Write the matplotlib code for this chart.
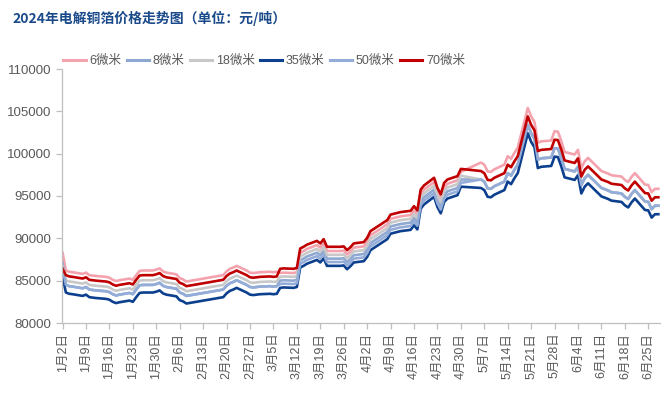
import matplotlib
matplotlib.use("Agg")
import matplotlib.pyplot as plt
import pandas as pd

dates = ["2024-01-02","2024-01-03","2024-01-04","2024-01-05","2024-01-08","2024-01-09","2024-01-10","2024-01-11","2024-01-12",
"2024-01-15","2024-01-16","2024-01-17","2024-01-18","2024-01-19","2024-01-22","2024-01-23","2024-01-24","2024-01-25","2024-01-26",
"2024-01-29","2024-01-30","2024-01-31","2024-02-01","2024-02-02","2024-02-05","2024-02-06","2024-02-07","2024-02-08",
"2024-02-19","2024-02-20","2024-02-21","2024-02-22","2024-02-23","2024-02-26","2024-02-27","2024-02-28","2024-02-29","2024-03-01",
"2024-03-04","2024-03-05","2024-03-06","2024-03-07","2024-03-08","2024-03-11","2024-03-12","2024-03-13","2024-03-14","2024-03-15",
"2024-03-18","2024-03-19","2024-03-20","2024-03-21","2024-03-22","2024-03-25","2024-03-26","2024-03-27","2024-03-28","2024-03-29",
"2024-04-01","2024-04-02","2024-04-03","2024-04-08","2024-04-09","2024-04-10","2024-04-11","2024-04-12",
"2024-04-15","2024-04-16","2024-04-17","2024-04-18","2024-04-19","2024-04-22","2024-04-23","2024-04-24","2024-04-25","2024-04-26",
"2024-04-29","2024-04-30","2024-05-06","2024-05-07","2024-05-08","2024-05-09","2024-05-10",
"2024-05-13","2024-05-14","2024-05-15","2024-05-16","2024-05-17","2024-05-20","2024-05-21","2024-05-22","2024-05-23","2024-05-24",
"2024-05-27","2024-05-28","2024-05-29","2024-05-30","2024-05-31","2024-06-03","2024-06-04","2024-06-05","2024-06-06","2024-06-07",
"2024-06-11","2024-06-12","2024-06-13","2024-06-14","2024-06-17","2024-06-18","2024-06-19","2024-06-20","2024-06-21",
"2024-06-24","2024-06-25","2024-06-26","2024-06-27","2024-06-28"]

um6 = [88300,
86200,86050,86000,85800,85950,85650,85600,85550,85450,85350,85100,84950,85050,85250,85100,85650,86150,86200,86200,86300,86450,86100,85950,85750,85300,85150,84900,85650,86100,86400,86550,86750,86200,85950,85900,85950,86000,86050,86000,86050,
85900,85950,85900,86000,88300,88500,88750,89200,88900,89400,88500,88500,88500,88550,88100,88450,88900,89050,89550,90350,91650,92300,92400,92500,92600,92750,93300,92800,95250,95750,96650,95450,94700,96050,96450,96850,97850,
98950,98700,97900,97850,98150,98700,99700,99400,100100,100700,105400,104400,103750,101300,101450,101550,102650,102600,101500,100200,99900,100450,98300,99100,99500,97950,97800,97650,97450,97300,96900,96650,97250,97700,96350,96300,95450,95850,95850]

um8 = [87100,
84500,84350,84300,84100,84250,83950,83900,83850,83750,83650,83400,83250,83350,83550,83400,83950,84450,84500,84500,84600,84750,84400,84250,84050,83600,83450,83200,83950,84400,84700,84850,85050,84500,84250,84200,84250,84300,84350,84300,84350,
85000,85050,85000,85100,87400,87600,87850,88300,88000,88500,87600,87600,87600,87650,87200,87550,88000,88150,88650,89450,90750,91400,91500,91600,91700,91850,92400,91900,94350,94850,95750,94550,93800,95150,95550,95950,96950,
96950,96700,95900,95850,96150,96700,97700,97400,98100,98700,103400,102400,101750,99300,99450,99550,100650,100600,99500,98200,97900,98450,96300,97100,97500,95950,95800,95650,95450,95300,94900,94650,95250,95700,94350,94300,93450,93850,93850]

um18 = [86700,
85050,84900,84850,84650,84800,84500,84450,84400,84300,84200,83950,83800,83900,84100,83950,84500,85000,85050,85050,85150,85300,84950,84800,84600,84150,84000,83750,84500,84950,85250,85400,85600,85050,84800,84750,84800,84850,84900,84850,84900,
85450,85500,85450,85550,87850,88050,88300,88750,88450,88950,88050,88050,88050,88100,87650,88000,88450,88600,89100,89900,91200,91850,91950,92050,92150,92300,92850,92350,94800,95300,96200,95000,94250,95600,96000,96400,97400,
96950,96700,95900,95850,96150,96700,97700,97400,98100,98700,103400,102400,101750,99300,99450,99550,100650,100600,99500,98200,97900,98450,96300,97100,97500,95950,95800,95650,95450,95300,94900,94650,95250,95700,94350,94300,93450,93850,93850]

um35 = [85400,
83600,83450,83400,83200,83350,83050,83000,82950,82850,82750,82500,82350,82450,82650,82500,83050,83550,83600,83600,83700,83850,83500,83350,83150,82700,82550,82300,83050,83500,83800,83950,84150,83600,83350,83300,83350,83400,83450,83400,83450,
84150,84200,84150,84250,86550,86750,87000,87450,87150,87650,86750,86750,86750,86800,86350,86700,87150,87300,87800,88600,89900,90550,90650,90750,90850,91000,91550,91050,93500,94000,94900,93700,92950,94300,94700,95100,96100,
95950,95700,94900,94850,95150,95700,96700,96400,97100,97700,102400,101400,100750,98300,98450,98550,99650,99600,98500,97200,96900,97450,95300,96100,96500,94950,94800,94650,94450,94300,93900,93650,94250,94700,93350,93300,92450,92850,92850]

um50 = [86500,
84500,84350,84300,84100,84250,83950,83900,83850,83750,83650,83400,83250,83350,83550,83400,83950,84450,84500,84500,84600,84750,84400,84250,84050,83600,83450,83200,83950,84400,84700,84850,85050,84500,84250,84200,84250,84300,84350,84300,84350,
84600,84650,84600,84700,87000,87200,87450,87900,87600,88100,87200,87200,87200,87250,86800,87150,87600,87750,88250,89050,90350,91000,91100,91200,91300,91450,92000,91500,93950,94450,95350,94150,93400,94750,95150,95550,96550,
96950,96700,95900,95850,96150,96700,97700,97400,98100,98700,103400,102400,101750,99300,99450,99550,100650,100600,99500,98200,97900,98450,96300,97100,97500,95950,95800,95650,95450,95300,94900,94650,95250,95700,94350,94300,93450,93850,93850]

um70 = [86400,
85650,85500,85450,85250,85400,85100,85050,85000,84900,84800,84550,84400,84500,84700,84550,85100,85600,85650,85650,85750,85900,85550,85400,85200,84750,84600,84350,85100,85550,85850,86000,86200,85650,85400,85350,85400,85450,85500,85450,85500,
86400,86450,86400,86500,88800,89000,89250,89700,89400,89900,89000,89000,89000,89050,88600,88950,89400,89550,90050,90850,92150,92800,92900,93000,93100,93250,93800,93300,95750,96250,97150,95950,95200,96550,96950,97350,98200,
97950,97700,96900,96850,97150,97700,98700,98400,99100,99700,104400,103400,102750,100300,100450,100550,101650,101600,100500,99200,98900,99450,97300,98100,98500,96950,96800,96650,96450,96300,95900,95650,96250,96700,95350,95300,94450,94850,94850]

series_names = ["6微米", "8微米", "18微米", "35微米", "50微米", "70微米"]
series_values = [um6, um8, um18, um35, um50, um70]
series_colors = ["#F4A3AE", "#8EA8D2", "#C8C8C8", "#0C3F8D", "#93ADD8", "#C00000"]

tick_dates = pd.date_range("2024-01-02", "2024-06-25", freq="7D")
tick_labels = [f"{d.month}月{d.day}日" for d in tick_dates]

y_ticks = [80000, 85000, 90000, 95000, 100000, 105000, 110000]

plt.rcParams['font.family'] = ['Liberation Sans', 'Noto Sans CJK SC', 'DejaVu Sans']

fig = plt.figure(figsize=(6.62, 3.99), dpi=100)
ax = fig.add_axes([62/662, 1 - 323/399, (660 - 62)/662, (323 - 69)/399])

x = pd.to_datetime(dates)
for name, vals, col in zip(series_names, series_values, series_colors):
    ax.plot(x, vals, color=col, lw=1.9, label=name, solid_joinstyle='round')

ax.set_ylim(80000, 110000)
ax.set_yticks(y_ticks)
ax.set_yticklabels([str(v) for v in y_ticks])
ax.set_xlim(pd.Timestamp("2024-01-01 20:00"), pd.Timestamp("2024-06-28 12:00"))
ax.set_xticks(tick_dates)
ax.set_xticklabels(tick_labels, rotation=90)

for s in ["top", "right"]:
    ax.spines[s].set_visible(False)
for s in ["left", "bottom"]:
    ax.spines[s].set_color("#BFBFBF")
    ax.spines[s].set_linewidth(0.9)
ax.tick_params(axis='both', colors="#BFBFBF", length=4, width=0.9, labelcolor="#595959", labelsize=9.5)
ax.tick_params(axis='x', labelsize=9, pad=3)

fig.text(12/662, 1 - 18/399, "2024年电解铜箔价格走势图（单位：元/吨）", fontsize=10, fontweight='bold',
         color="#1B4A8A", family=['Noto Sans CJK SC'], va='center', ha='left')

leg = fig.legend(loc='center left', bbox_to_anchor=(52/662, 1 - 61/399), ncol=6, frameon=False,
                 fontsize=9, handlelength=1.8, columnspacing=0.4, handletextpad=0.3, labelcolor="#595959")
for h in leg.get_lines():
    h.set_linewidth(2.2)

fig.savefig("out.png", dpi=100)
